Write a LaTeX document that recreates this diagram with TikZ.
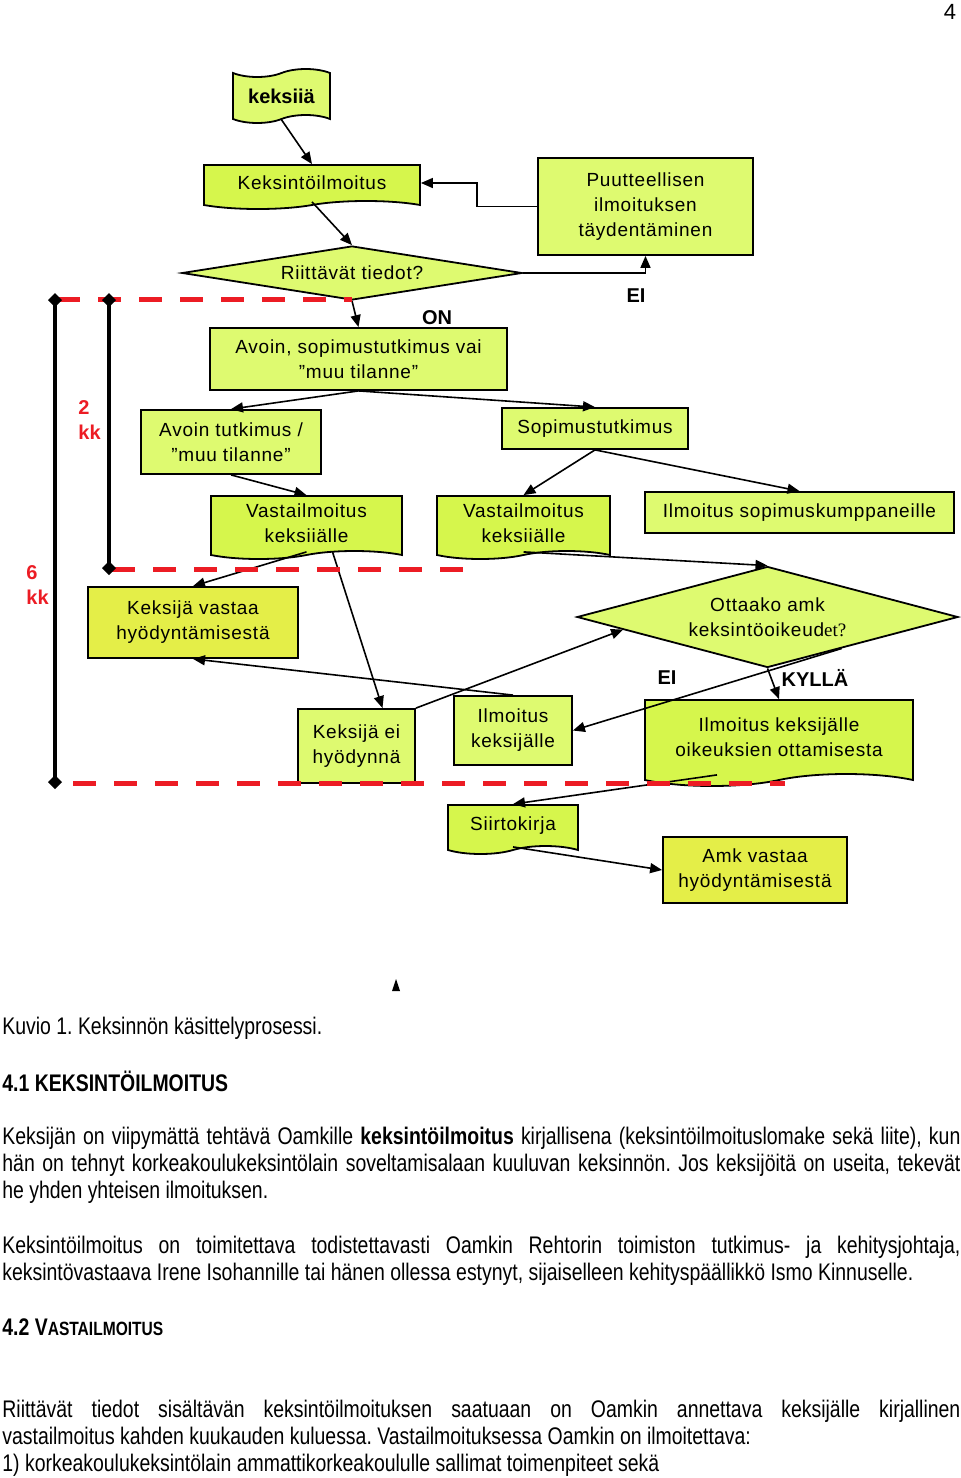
\documentclass[tikz,border=0pt]{standalone}
\usepackage{fontspec}
\setmainfont{Liberation Sans}
\newfontfamily\chartfont[LetterSpace=4]{Liberation Sans}
\newfontfamily\bodyfont[FakeStretch=0.81]{Liberation Sans}
\newfontfamily\serifpart{Liberation Serif}
\usetikzlibrary{shapes.geometric,shapes.symbols,arrows.meta}
\definecolor{limedoc}{RGB}{214,246,76}
\definecolor{limebox}{RGB}{222,250,112}
\definecolor{yelbox}{RGB}{228,238,72}
\definecolor{markred}{RGB}{236,28,36}
\tolerance=9999
\hyphenpenalty=10000
\frenchspacing

\begin{document}
\begin{tikzpicture}[x=0.5pt, y=-0.5pt,
    box/.style={draw, line width=0.9pt, fill=limebox, align=center, inner sep=0pt,
      font=\chartfont\fontsize{9.5}{12.5}\selectfont},
    docbox/.style={box, fill=limedoc, shape=tape, tape bend top=none,
      tape bend bottom=in and out, tape bend height=4pt},
    yesno/.style={box, shape=diamond, aspect=5},
    choice/.style={font=\bfseries\fontsize{10}{12}\selectfont},
    arr/.style={line width=0.8pt, -{Triangle[length=6pt,width=5pt]}},
    redline/.style={draw=markred, line width=2.5pt, dash pattern=on 11.5pt off 9pt},
    span/.style={line width=2pt, {Diamond[length=7pt,width=7pt]}-{Diamond[length=7pt,width=7pt]}},
    months/.style={text=markred, font=\bfseries\fontsize{10}{12.5}\selectfont, align=left, anchor=west, inner sep=0pt},
    body/.style={font=\bodyfont\fontsize{12}{13.5}\selectfont, inner sep=0pt, anchor=north west}
  ]
    \useasboundingbox (0,0) rectangle (960,1478);

    \node[font=\fontsize{11}{13}\selectfont] (page) at (950,12) {4};

    \node[box, shape=tape, tape bend height=4pt, minimum width=48.5pt, minimum height=27pt,
      font=\bfseries\fontsize{10}{12}\selectfont] (flag) at (281.5,96) {keksiiä};
    \node[docbox, minimum width=108pt, minimum height=22pt] (ilm) at (312,183) {Keksintöilmoitus};
    \node[box, minimum width=107.5pt, minimum height=48.5pt] (put) at (645.5,206.5) {Puutteellisen\\ilmoituksen\\täydentäminen};
    \node[yesno, minimum width=170pt, minimum height=27pt] (riit) at (352,273) {\raisebox{-2pt}{Riittävät tiedot?}};

    \node[box, minimum width=148.5pt, minimum height=31pt] (avs) at (358.5,359) {Avoin, sopimustutkimus vai\\”muu tilanne”};
    \node[box, minimum width=90pt, minimum height=32pt] (avt) at (231,442) {Avoin tutkimus /\\”muu tilanne”};
    \node[box, minimum width=93pt, minimum height=20.5pt] (sop) at (595,428.5) {Sopimustutkimus};

    \node[docbox, minimum width=95.5pt, minimum height=31.5pt] (va1) at (306.5,523.5) {Vastailmoitus\\keksiiälle};
    \node[docbox, minimum width=86.5pt, minimum height=31.5pt] (va2) at (523.5,523.5) {Vastailmoitus\\keksiiälle};
    \node[box, minimum width=154.5pt, minimum height=20.5pt] (isk) at (799.5,512.5) {Ilmoitus sopimuskumppaneille};

    \node[box, fill=yelbox, minimum width=105pt, minimum height=35.5pt] (kva) at (193,622.5) {Keksijä vastaa\\hyödyntämisestä};
    \node[yesno, aspect=4, minimum width=190.5pt, minimum height=50.5pt] (ott) at (767.5,617) {Ottaako amk\\keksintöoikeud{\serifpart et?}};

    \node[box, minimum width=58.5pt, minimum height=37pt] (kei) at (356.5,746) {Keksijä ei\\hyödynnä};
    \node[box, minimum width=59pt, minimum height=34.5pt] (ike) at (513,730.5) {Ilmoitus\\keksijälle};
    \node[docbox, tape bend height=6pt, minimum width=134pt, minimum height=43pt] (iko) at (779,737) {Ilmoitus keksijälle\\oikeuksien ottamisesta};
    \node[docbox, minimum width=65pt, minimum height=24.5pt] (sii) at (513,825.5) {Siirtokirja};
    \node[box, fill=yelbox, minimum width=92pt, minimum height=33pt] (amk) at (755,870) {Amk vastaa\\hyödyntämisestä};

    \node[choice] (on) at (437,318) {ON};
    \node[choice] (ei1) at (636,296) {EI};
    \node[choice] (ei2) at (667,678) {EI};
    \node[choice] (kylla) at (815,678) {KYLLÄ};

    \draw[arr] (flag.south) -- (ilm.north);
    \draw[arr] (ilm.south) -- (riit.north);
    \draw[arr] (riit.south) -- (avs.north);
    \draw[arr] (riit.east) -| (put.south);
    \draw[arr] (put.west) -- ++(-60,0) |- (ilm.east);
    \draw[arr] (avs.south) -- (avt.north);
    \draw[arr] (avs.south) -- (sop.north);
    \draw[arr] (avt.south) -- (va1.north);
    \draw[arr] (sop.south) -- (va2.north);
    \draw[arr] (sop.south) -- (isk.north);
    \draw[arr] (va1.south) -- (kva.north);
    \draw[arr] ([xshift=13pt]va1.south) -- ([xshift=13pt]kei.north);
    \draw[arr] (va2.south) -- (ott.north);
    \draw[arr] (kei.north east) -- (ott.185);
    \draw[arr] (ike.north) -- (kva.south);
    \draw[arr] (ott.-23) -- (ike.east);
    \draw[arr] (ott.south) -- (iko.north);
    \draw[arr] ([xshift=-31pt]iko.south) -- (sii.north);
    \draw[arr] (sii.south) -- (amk.west);

    \draw[redline] (57,299) -- (352,299);
    \draw[redline] (112,569) -- (468,569);
    \draw[redline] (73,783) -- (785,783);
    \draw[span] (55,293) -- (55,789);
    \draw[span] (109,293) -- (109,575);
    \node[months] (two) at (78,420) {2\\kk};
    \node[months] (six) at (26,585) {6\\kk};

    \fill (392,991) -- (400,991) -- (396,979) -- cycle;

    \node[body] (caption) at (2,1017) {Kuvio 1. Keksinnön käsittelyprosessi.};
    \node[body, font=\bodyfont\bfseries\fontsize{12}{13.5}\selectfont] (sec1) at (2,1071) {4.1 KEKSINTÖILMOITUS};
    \node[body, text width=479pt, align=justify] (par1) at (2,1127) {Keksijän on viipymättä tehtävä Oamkille \textbf{keksintöilmoitus} kirjallisena (keksintöilmoituslomake sekä liite), kun\linebreak hän on tehnyt korkeakoulukeksintölain soveltamisalaan kuuluvan keksinnön. Jos keksijöitä on useita, tekevät\linebreak he yhden yhteisen ilmoituksen.};
    \node[body, text width=479pt, align=justify] (par2) at (2,1236) {Keksintöilmoitus on toimitettava todistettavasti Oamkin Rehtorin toimiston tutkimus- ja kehitysjohtaja,\linebreak keksintövastaava Irene Isohannille tai hänen ollessa estynyt, sijaiselleen kehityspäällikkö Ismo Kinnuselle.};
    \node[body, font=\bodyfont\bfseries\fontsize{12}{13.5}\selectfont] (sec2) at (2,1318) {4.2 V{\fontsize{9.6}{12}\selectfont ASTAILMOITUS}};
    \node[body, text width=479pt, align=justify] (par3) at (2,1400) {Riittävät tiedot sisältävän keksintöilmoituksen saatuaan on Oamkin annettava keksijälle kirjallinen\linebreak vastailmoitus kahden kuukauden kuluessa. Vastailmoituksessa Oamkin on ilmoitettava:\\ 1) korkeakoulukeksintölain ammattikorkeakoululle sallimat toimenpiteet sekä};
  \end{tikzpicture}
\end{document}
